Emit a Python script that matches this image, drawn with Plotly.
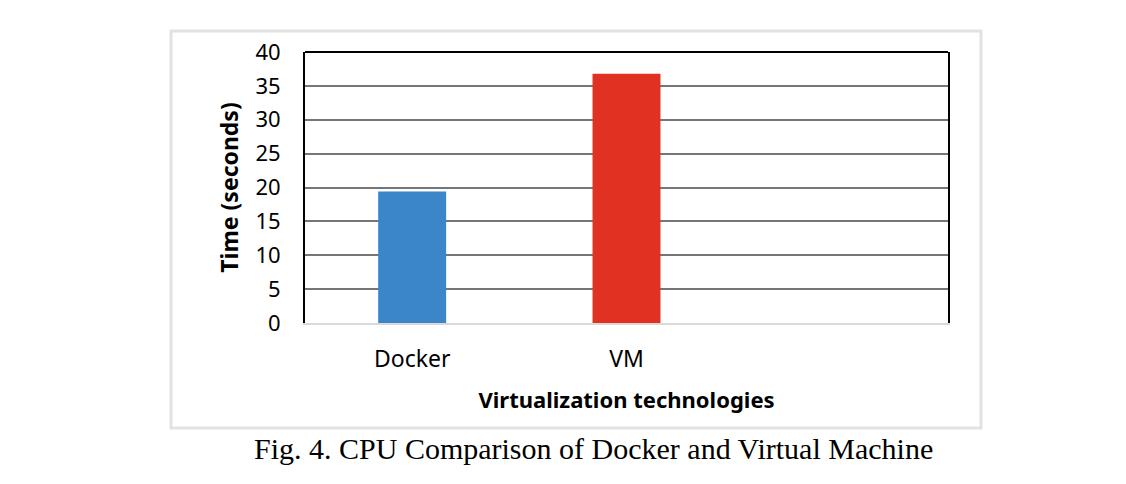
import plotly.graph_objects as go

categories = ["Docker", "VM"]
times = [19.4, 36.8]
bar_colors = ["#3a86c8", "#e03123"]
y_ticks = [0, 5, 10, 15, 20, 25, 30, 35, 40]

fig = go.Figure(
    go.Bar(x=categories, y=times, marker=dict(color=bar_colors, line=dict(width=0)))
)

fig.update_layout(
    width=1126,
    height=484,
    margin=dict(l=305, r=178, t=52, b=161),
    paper_bgcolor="white",
    plot_bgcolor="white",
    bargap=0.683,
    showlegend=False,
    font=dict(family="Noto Sans, Open Sans, sans-serif", color="black"),
    xaxis=dict(
        type="category",
        range=[-0.5, 2.5],
        showline=True,
        linecolor="#d9d9d9",
        linewidth=2,
        showgrid=False,
        ticks="",
        tickfont=dict(size=23),
        ticklabelstandoff=14,
        title=dict(
            text="<b>Virtualization technologies</b>",
            font=dict(size=22),
            standoff=20,
        ),
    ),
    yaxis=dict(
        range=[0, 40],
        tickvals=y_ticks,
        showline=True,
        linecolor="black",
        linewidth=2,
        mirror=True,
        showgrid=True,
        gridcolor="#767676",
        gridwidth=1.5,
        zeroline=False,
        ticks="",
        tickfont=dict(size=22),
        ticklabelstandoff=18,
        title=dict(
            text="<b>Time (seconds)</b>",
            font=dict(size=23),
            standoff=10,
        ),
    ),
    shapes=[
        dict(type="line", xref="paper", yref="paper", x0=0, x1=1, y0=1, y1=1,
             line=dict(color="black", width=2)),
        dict(type="rect", xref="paper", yref="paper",
             x0=(171 - 305) / 643, x1=(981 - 305) / 643,
             y0=-(428 - 323) / 271, y1=1 + (52 - 31) / 271,
             line=dict(color="#e2e2e2", width=3), layer="below"),
    ],
    annotations=[
        dict(
            text="Fig. 4. CPU Comparison of Docker and Virtual Machine",
            xref="paper", yref="paper",
            x=(593 - 305) / 643, y=-(448 - 323) / 271,
            xanchor="center", yanchor="middle",
            showarrow=False,
            font=dict(family="Liberation Serif, Times New Roman, serif", size=30, color="black"),
        )
    ],
)

fig.write_html("out.html")
